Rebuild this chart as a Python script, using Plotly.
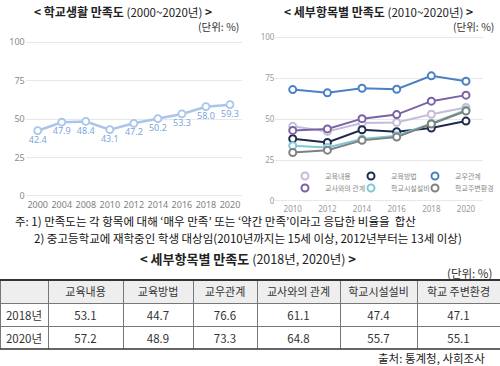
import plotly.graph_objects as go

W, H = 500, 366
def px(x): return x / W
def py(y): return 1 - y / H

FONT = "Noto Sans CJK KR"

# ---------- data ----------
left_years = ["2000", "2004", "2008", "2010", "2012", "2014", "2016", "2018", "2020"]
left_values = [42.4, 47.9, 48.4, 43.1, 47.2, 50.2, 53.3, 58.0, 59.3]

right_years = ["2010", "2012", "2014", "2016", "2018", "2020"]
edu_content = [45.7, 42.6, 47.7, 48.1, 53.1, 57.2]      # 교육내용
edu_method = [38.1, 35.8, 43.6, 42.4, 44.7, 48.9]       # 교육방법
peer_rel = [68.2, 66.2, 69.0, 68.4, 76.6, 73.3]         # 교우관계
teacher_rel = [43.2, 44.1, 50.4, 52.9, 61.1, 64.8]      # 교사와의 관계
facilities = [33.8, 32.8, 37.9, 40.0, 47.4, 55.7]       # 학교시설설비
environment = [29.7, 31.1, 37.1, 39.1, 47.1, 55.1]      # 학교주변환경

table_items = ["교육내용", "교육방법", "교우관계", "교사와의 관계", "학교시설설비", "학교 주변환경"]
table_rows = ["2018년", "2020년"]
table_2018 = [53.1, 44.7, 76.6, 61.1, 47.4, 47.1]
table_2020 = [57.2, 48.9, 73.3, 64.8, 55.7, 55.1]

fig = go.Figure()

# ---------- left chart ----------
fig.add_trace(go.Scatter(
    x=left_years, y=left_values, mode="lines+markers+text",
    text=[f"{v:.1f}" for v in left_values], textposition="bottom center",
    textfont=dict(size=9, color="#7aa7dc", family="Noto Sans"),
    line=dict(color="#a9c5ea", width=2.5),
    marker=dict(symbol="circle", size=7, color="white", line=dict(color="#a9c5ea", width=1.8)),
    showlegend=False, xaxis="x", yaxis="y", cliponaxis=False,
))

# ---------- right chart ----------
series = [
    ("교육내용", edu_content, "#c3bdd9"),
    ("교육방법", edu_method, "#1e2b4f"),
    ("교우관계", peer_rel, "#4b80c4"),
    ("교사와의 관계", teacher_rel, "#7a62a7"),
    ("학교시설설비", facilities, "#80c8d8"),
    ("학교주변환경", environment, "#7d827f"),
]
legend_ids = ["legend", "legend2", "legend3", "legend4", "legend5", "legend6"]
for (name, vals, col), lg in zip(series, legend_ids):
    fig.add_trace(go.Scatter(
        x=right_years, y=vals, mode="lines+markers", name=name, legendgroup=name,
        line=dict(color=col, width=2),
        marker=dict(symbol="circle", size=7, color="white", line=dict(color=col, width=2)),
        xaxis="x2", yaxis="y2", showlegend=False, cliponaxis=False,
    ))
    # legend entry (marker only)
    fig.add_trace(go.Scatter(
        x=[None], y=[None], mode="markers", name=name, legendgroup=name,
        marker=dict(symbol="circle", size=7, color="white", line=dict(color=col, width=2)),
        xaxis="x2", yaxis="y2", legend=lg, showlegend=True,
    ))

# ---------- table ----------
col_widths = [48, 75, 70, 64, 83, 77, 83]
cells = [table_rows] + [[f"{a:.1f}", f"{b:.1f}"] for a, b in zip(table_2018, table_2020)]
fig.add_trace(go.Table(
    domain=dict(x=[0, 1], y=[py(349), py(280)]),
    columnwidth=col_widths,
    header=dict(values=[""] + table_items, fill_color="#eeeeee",
                line=dict(color="#777777", width=1), height=23, align="center",
                font=dict(family=FONT, size=11, color="#333333")),
    cells=dict(values=cells, fill_color="white",
               line=dict(color="#777777", width=1), height=23, align="center",
               font=dict(family=FONT, size=11.5, color="#333333")),
))

axis_common = dict(showline=False, zeroline=False, ticks="", fixedrange=True, automargin=False)
legend_common = dict(orientation="h", xanchor="left", yanchor="middle",
                     bgcolor="rgba(0,0,0,0)", itemwidth=30,
                     font=dict(size=7, color="#8a8a8a", family=FONT))
marker_cols = [306, 372, 436]
marker_rows = [176, 188]
legend_layout = {}
for i, lg in enumerate(legend_ids):
    mx = marker_cols[i % 3]
    my = marker_rows[i // 3]
    legend_layout[lg] = dict(x=px(mx - 21), y=py(my), **legend_common)

fig.update_layout(
    width=W, height=H, margin=dict(l=0, r=0, t=0, b=0, autoexpand=False),
    paper_bgcolor="white", plot_bgcolor="white",
    font=dict(family=FONT),
    xaxis=dict(domain=[px(25.7), px(242)], type="category", range=[-0.5, 8.5],
               showgrid=False, tickangle=0,
               tickfont=dict(size=9, color="#7f7f7f", family="Noto Sans"), **axis_common),
    yaxis=dict(domain=[py(197.5), py(40.5)], range=[-1, 101], tickvals=[0, 25, 50, 75, 100],
               gridcolor="#e8e8e8", gridwidth=1,
               tickfont=dict(size=9, color="#8a8a8a", family="Noto Sans"), **axis_common),
    xaxis2=dict(domain=[px(275.4), px(483.3)], type="category", range=[-0.5, 5.5],
                showgrid=False, anchor="y2", tickangle=0,
                tickfont=dict(size=8, color="#999999", family="Noto Sans"), **axis_common),
    yaxis2=dict(domain=[py(202.6), py(36)], range=[-1, 101], tickvals=[0, 25, 50, 75, 100],
                gridcolor="#e8e8e8", gridwidth=1, anchor="x2",
                tickfont=dict(size=8, color="#999999", family="Noto Sans"), **axis_common),
    **legend_layout,
)

def ann(text, x, y, size, color="#111111", xanchor="center"):
    fig.add_annotation(text=text, x=px(x), y=py(y), xref="paper", yref="paper",
                       showarrow=False, xanchor=xanchor, yanchor="middle", borderpad=0,
                       font=dict(family=FONT, size=size, color=color))

def title(main, sub, main_size, sub_size):
    s = f"<span style='font-size:{sub_size}px;font-weight:normal'>"
    return f"<b>&lt; {main}</b> {s}{sub}</span> <b>&gt;</b>"

ann(title("학교생활 만족도", "(2000~2020년)", 12, 11.5), 123, 11, 12, "#222222")
ann("(단위: %)", 240, 27, 10.5, "#333333", "right")
ann(title("세부항목별 만족도", "(2010~2020년)", 12, 11.5), 378, 11, 12, "#222222")
ann("(단위: %)", 495, 27, 10.5, "#333333", "right")

ann("주: 1) 만족도는 각 항목에 대해 ‘매우 만족’ 또는 ‘약간 만족’이라고 응답한 비율을  합산", 14, 221, 11.5, "#111111", "left")
ann("2) 중고등학교에 재학중인 학생 대상임(2010년까지는 15세 이상, 2012년부터는 13세 이상)", 33, 238, 11.5, "#111111", "left")

ann(title("세부항목별 만족도", "(2018년, 2020년)", 13, 12.5), 248, 258, 13, "#222222")
ann("(단위: %)", 493, 273, 11.5, "#333333", "right")
ann("출처: 통계청, 사회조사", 486, 358, 11.5, "#222222", "right")

# table outer borders
fig.add_shape(type="line", xref="paper", yref="paper", x0=0, x1=1, y0=py(280), y1=py(280),
              line=dict(color="#333333", width=2))
fig.add_shape(type="line", xref="paper", yref="paper", x0=0, x1=1, y0=py(349), y1=py(349),
              line=dict(color="#333333", width=1.5))

fig.write_html("out.html", config={"displayModeBar": False},
               post_script="document.body.style.margin='0px';")
